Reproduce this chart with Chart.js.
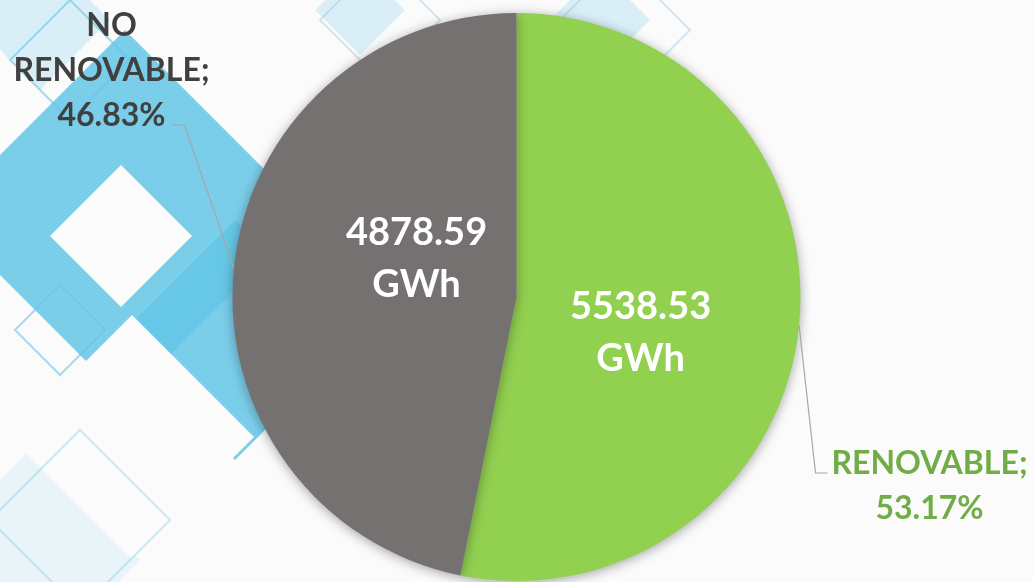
<!DOCTYPE html>
<html>
<head>
<meta charset="utf-8">
<script src="https://cdn.jsdelivr.net/npm/chart.js@4"></script>
<style>
  html, body { margin: 0; padding: 0; background: #fbfbfb; }
  #contenedor { width: 1033px; height: 582px; position: relative; }
</style>
</head>
<body>
<div id="contenedor"><canvas id="grafico"></canvas></div>
<script>
// Datos del gráfico
const categorias = ['RENOVABLE', 'NO RENOVABLE'];
const valoresGWh = [5538.53, 4878.59];
const unidad = 'GWh';
const coloresSector = ['#92D050', '#767171'];
const coloresEtiqueta = ['#70AD47', '#404040'];

const fuente = 'Lato, "Open Sans", sans-serif';

// Fondo decorativo (rombos azules)
const fondoPlugin = {
  id: 'fondo',
  beforeDraw(chart) {
    const ctx = chart.ctx;
    const rombo = (cx, cy, h) => {
      ctx.beginPath();
      ctx.moveTo(cx, cy - h);
      ctx.lineTo(cx + h, cy);
      ctx.lineTo(cx, cy + h);
      ctx.lineTo(cx - h, cy);
      ctx.closePath();
    };
    ctx.save();
    ctx.fillStyle = '#fbfbfb';
    ctx.fillRect(0, 0, chart.width, chart.height);

    ctx.fillStyle = 'rgba(175, 222, 240, 0.45)';
    rombo(40, 20, 70); ctx.fill();
    rombo(360, 10, 45); ctx.fill();
    rombo(600, 20, 50); ctx.fill();
    ctx.fillStyle = 'rgba(190, 228, 242, 0.3)';
    rombo(30, 560, 110); ctx.fill();

    ctx.fillStyle = 'rgba(100, 198, 230, 0.85)';
    rombo(125, 215, 185); ctx.fill();
    rombo(235, 340, 120); ctx.fill();

    ctx.fillStyle = '#fbfbfb';
    rombo(121, 236, 71); ctx.fill();
    rombo(132, 437, 122); ctx.fill();
    rombo(-10, 90, 45); ctx.fill();

    ctx.strokeStyle = 'rgba(100, 198, 230, 0.6)';
    ctx.lineWidth = 2;
    rombo(70, 60, 60); ctx.stroke();
    rombo(60, 330, 45); ctx.stroke();
    ctx.strokeStyle = 'rgba(130, 200, 228, 0.4)';
    rombo(80, 520, 90); ctx.stroke();
    ctx.strokeStyle = 'rgba(160, 200, 225, 0.45)';
    rombo(380, 20, 60); ctx.stroke();
    rombo(620, 30, 70); ctx.stroke();
    ctx.restore();
  }
};

// Sombra suave alrededor del pastel
const sombraPlugin = {
  id: 'sombra',
  beforeDatasetsDraw(chart) {
    const c = chart.ctx;
    c.save();
    c.shadowColor = 'rgba(0, 0, 0, 0.35)';
    c.shadowBlur = 12;
    c.shadowOffsetY = 2;
  },
  afterDatasetsDraw(chart) {
    chart.ctx.restore();
  }
};

function lineasAjustadas(ctx, texto, ancho) {
  const palabras = texto.split(' ');
  const lineas = [];
  let actual = '';
  palabras.forEach(p => {
    const prueba = actual ? actual + ' ' + p : p;
    if (actual && ctx.measureText(prueba).width > ancho) {
      lineas.push(actual);
      actual = p;
    } else {
      actual = prueba;
    }
  });
  if (actual) lineas.push(actual);
  return lineas;
}

function textoCentrado(ctx, lineas, cx, cy, tam, alto) {
  const inicio = cy - (lineas.length - 1) * alto / 2;
  lineas.forEach((l, k) => {
    ctx.fillText(l, cx, inicio + k * alto + tam * 0.36);
  });
}

// Etiquetas interiores y exteriores con líneas guía
const etiquetasPlugin = {
  id: 'etiquetas',
  afterDatasetsDraw(chart, args, opts) {
    const ctx = chart.ctx;
    const total = valoresGWh.reduce((a, b) => a + b, 0);
    const arcos = chart.getDatasetMeta(0).data;
    ctx.save();
    ctx.textAlign = 'center';
    ctx.textBaseline = 'alphabetic';
    arcos.forEach((arco, i) => {
      const { x, y, startAngle, endAngle, outerRadius } =
        arco.getProps(['x', 'y', 'startAngle', 'endAngle', 'outerRadius'], true);
      const medio = (startAngle + endAngle) / 2;

      // valor dentro del sector
      const int = opts.interior[i];
      const ai = medio + int.giro;
      const ri = outerRadius * int.dist;
      ctx.fillStyle = '#ffffff';
      ctx.font = `bold 38px ${fuente}`;
      textoCentrado(ctx, [valoresGWh[i].toFixed(2), unidad],
        x + Math.cos(ai) * ri, y + Math.sin(ai) * ri, 38, 52);

      // línea guía
      const ext = opts.exterior[i];
      ctx.strokeStyle = '#a6a6a6';
      ctx.lineWidth = 1.2;
      ctx.beginPath();
      ctx.moveTo(x + Math.cos(medio) * outerRadius, y + Math.sin(medio) * outerRadius);
      ctx.lineTo(x + ext.codo[0], y + ext.codo[1]);
      ctx.lineTo(x + ext.fin[0], y + ext.fin[1]);
      ctx.stroke();

      // categoría y porcentaje
      ctx.fillStyle = coloresEtiqueta[i];
      ctx.font = `bold 32px ${fuente}`;
      const pct = (valoresGWh[i] / total * 100).toFixed(2) + '%';
      const lineas = lineasAjustadas(ctx, categorias[i] + ';', 205).concat([pct]);
      textoCentrado(ctx, lineas, x + ext.texto[0], y + ext.texto[1], 32, 45);
    });
    ctx.restore();
  }
};

new Chart(document.getElementById('grafico'), {
  type: 'pie',
  data: {
    labels: categorias,
    datasets: [{
      data: valoresGWh,
      backgroundColor: coloresSector,
      borderWidth: 0
    }]
  },
  options: {
    responsive: true,
    maintainAspectRatio: false,
    animation: false,
    layout: { padding: { top: 13, bottom: 1 } },
    plugins: {
      legend: { display: false },
      tooltip: { enabled: false },
      etiquetas: {
        interior: [
          { giro: 0.168, dist: 0.453 },
          { giro: 0.281, dist: 0.379 }
        ],
        exterior: [
          { codo: [299, 176], fin: [311, 176], texto: [413, 188] },
          { codo: [-332, -172], fin: [-345, -172], texto: [-405, -228] }
        ]
      }
    }
  },
  plugins: [fondoPlugin, sombraPlugin, etiquetasPlugin]
});
</script>
</body>
</html>
